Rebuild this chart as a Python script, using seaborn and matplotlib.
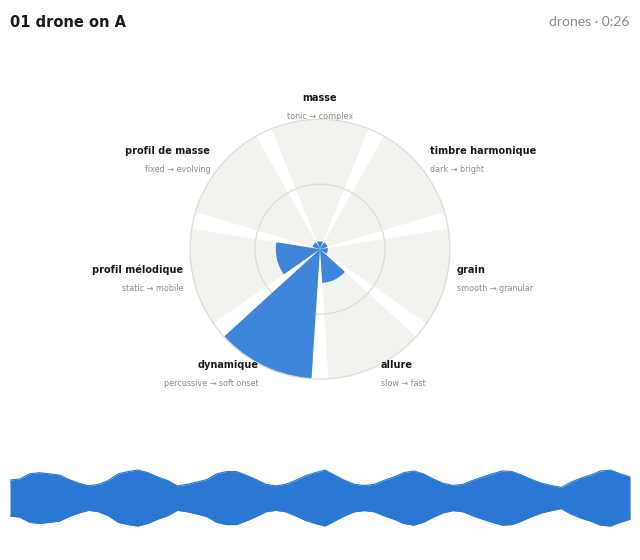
import numpy as np
import matplotlib
matplotlib.use("Agg")
import matplotlib.pyplot as plt
import seaborn as sns

# ---- data ----
axes_names = ["masse", "timbre harmonique", "grain", "allure",
              "dynamique", "profil mélodique", "profil de masse"]
axes_subs = ["tonic → complex", "dark → bright", "smooth → granular", "slow → fast",
             "percussive → soft onset", "static → mobile", "fixed → evolving"]
values = [0.06, 0.06, 0.06, 0.26, 1.0, 0.34, 0.06]

# waveform envelope (normalised amplitude), read every ~10 px across the strip
envelope = [0.63, 0.67, 0.85, 0.89, 0.85, 0.81, 0.65, 0.52, 0.43, 0.48,
            0.62, 0.85, 0.93, 0.98, 0.89, 0.74, 0.62, 0.43, 0.48, 0.56,
            0.65, 0.85, 0.93, 0.93, 0.80, 0.65, 0.48, 0.43, 0.48, 0.62,
            0.78, 0.89, 0.98, 0.80, 0.62, 0.48, 0.44, 0.48, 0.62, 0.74,
            0.89, 0.95, 0.85, 0.67, 0.52, 0.44, 0.48, 0.62, 0.74, 0.85,
            0.95, 0.93, 0.80, 0.65, 0.52, 0.44, 0.37, 0.56, 0.70, 0.81,
            0.95, 0.98, 0.85, 0.74]
duration = 26

title = "01 drone on A"
meta = "drones · 0:26"

BLUE = "#3f86db"
WAVE = "#2b78d4"
BG = "#f2f2ee"
GRID = "#deded8"

sns.set_style("white")
plt.rcParams['font.family'] = ['DejaVu Sans']

fig = plt.figure(figsize=(6.4, 5.6), dpi=100)

# ---- radial chart ----
ax = fig.add_axes([0.297, 0.323, 0.406, 0.464], projection="polar")
ax.set_theta_zero_location("N")
ax.set_theta_direction(-1)
n = len(axes_names)
step = 2 * np.pi / n
theta = np.arange(n) * step
width = step - np.deg2rad(7.5)

ax.bar(theta, [1.0] * n, width=width, color=BG, zorder=0.2, linewidth=0)
ax.bar(theta, values, width=width, color=BLUE, zorder=2, linewidth=0)

ax.set_ylim(0, 1)
ax.set_axisbelow(True)
ax.set_rgrids([0.5], labels=[""])
ax.yaxis.grid(True, color=GRID, linewidth=1)
ax.xaxis.grid(False)
ax.set_xticks([])
ax.spines["polar"].set_color(GRID)
ax.spines["polar"].set_linewidth(1)

for t, name, sub in zip(theta, axes_names, axes_subs):
    s = np.sin(t)
    ha = "left" if s > 0.1 else ("right" if s < -0.1 else "center")
    ax.annotate(name, xy=(t, 1.08), xytext=(0, 7.5), textcoords="offset points",
                ha=ha, va="center", fontsize=7.0, fontweight="bold", color="#1a1a1a",
                annotation_clip=False)
    ax.annotate(sub, xy=(t, 1.08), xytext=(0, -5.5), textcoords="offset points",
                ha=ha, va="center", fontsize=5.8, color="#8a8a8a",
                annotation_clip=False)

# ---- waveform ----
wax = fig.add_axes([0.0156, 0.0571, 0.969, 0.107])
tt = np.linspace(0, duration, len(envelope))
env = np.array(envelope)
wax.fill_between(tt, -env, env, color=WAVE, linewidth=0)
sns.lineplot(x=tt, y=env, ax=wax, color=WAVE, linewidth=0.8)
sns.lineplot(x=tt, y=-env, ax=wax, color=WAVE, linewidth=0.8)
wax.set_xlim(0, duration)
wax.set_ylim(-1.05, 1.05)
wax.axis("off")

# ---- header ----
fig.text(0.0156, 0.96, title, ha="left", va="center", fontsize=10.5,
         fontweight="bold", color="#1a1a1a")
fig.text(0.984, 0.96, meta, ha="right", va="center", fontsize=10,
         color="#888888", family=["Lato", "DejaVu Sans"])

fig.savefig("out.png", dpi=100)
